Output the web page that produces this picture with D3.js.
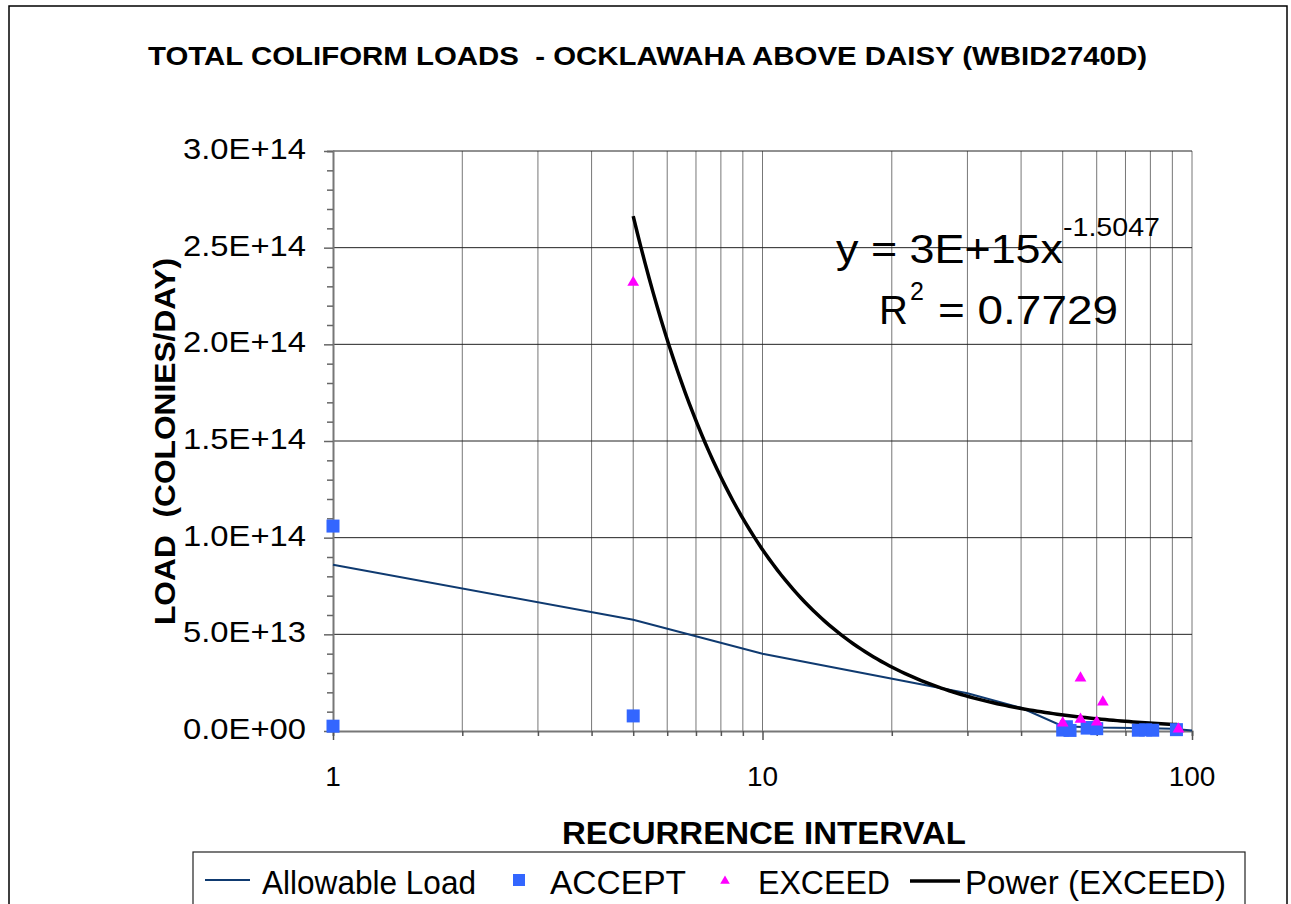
<!DOCTYPE html>
<html>
<head>
<meta charset="utf-8">
<script src="https://cdn.jsdelivr.net/npm/d3@7"></script>
<style>
  body { margin: 0; background: #fff; }
  text { font-family: "Liberation Sans", Arial, sans-serif; white-space: pre; }
</style>
</head>
<body>
<svg id="chart" width="1291" height="904"></svg>
<script>
// allowable load line (recurrence interval, load)
var allowX = [1, 5, 10, 30, 40, 50, 60, 80, 90, 100];
var allowY = [8.6e13, 5.75e13, 4.0e13, 1.95e13, 1.2e13, 2.5e12, 1.8e12, 1.4e12, 1.2e12, 0.3e12];

// ACCEPT samples
var acceptX = [1, 1, 5, 50, 51, 52, 57, 58.5, 60, 75, 78, 81, 92];
var acceptY = [1.06e14, 2.5e12, 7.8e12, 0.5e12, 2.2e12, 0.3e12, 1.5e12, 1.8e12, 1.2e12, 0.4e12, 0.6e12, 0.4e12, 0.7e12];

// EXCEED samples
var exceedX = [5, 50, 55, 55, 60, 62, 93];
var exceedY = [2.32e14, 4.1e12, 2.74e13, 6e12, 4.6e12, 1.5e13, 1e12];

// power trendline on EXCEED, as printed on the chart
var trendA = 3e15;
var trendB = -1.5047;

var yTicks = [0, 5e13, 1e14, 1.5e14, 2e14, 2.5e14, 3e14];
var yTickLabels = ["0.0E+00", "5.0E+13", "1.0E+14", "1.5E+14", "2.0E+14", "2.5E+14", "3.0E+14"];
var xTicks = [1, 10, 100];

var svg = d3.select("#chart");

var x = d3.scaleLog().domain([1, 100]).range([333, 1192]);
var y = d3.scaleLinear().domain([0, 3e14]).range([731, 151]);

// outer frame
svg.append("rect")
  .attr("x", 9).attr("y", 6)
  .attr("width", 1278).attr("height", 920)
  .attr("fill", "none")
  .attr("stroke", "#000")
  .attr("stroke-width", 1.5);

// title
svg.append("text")
  .attr("x", 148).attr("y", 65)
  .attr("textLength", 999).attr("lengthAdjust", "spacingAndGlyphs")
  .style("font-size", "26px").style("font-weight", "bold")
  .text("TOTAL COLIFORM LOADS  - OCKLAWAHA ABOVE DAISY (WBID2740D)");

// gridlines
var minorX = [];
[1, 10].forEach(function(d) {
  for (var k = 2; k <= 9; k++) minorX.push(d * k);
});

svg.append("g").selectAll("line")
  .data(minorX.concat([10, 100]))
  .enter().append("line")
  .attr("x1", function(d) { return x(d); })
  .attr("x2", function(d) { return x(d); })
  .attr("y1", y(3e14)).attr("y2", y(0))
  .attr("stroke", "#777").attr("stroke-width", 1);

svg.append("g").selectAll("line")
  .data(yTicks.slice(1))
  .enter().append("line")
  .attr("x1", x(1)).attr("x2", x(100))
  .attr("y1", function(d) { return y(d); })
  .attr("y2", function(d) { return y(d); })
  .attr("stroke", "#222").attr("stroke-width", 1);

// axes
var yAxis = d3.axisLeft(y)
  .tickValues(d3.range(0, 3.01e14, 1e13))
  .tickSize(6)
  .tickFormat("");
var gy = svg.append("g").attr("transform", "translate(" + x(1) + ",0)").call(yAxis);
gy.selectAll(".tick line")
  .attr("x2", function(d) { return (Math.round(d / 1e13) % 5 == 0) ? -9 : -6; })
  .attr("stroke", "#666").attr("stroke-width", 1.5);
gy.select(".domain").attr("stroke", "#777").attr("stroke-width", 2);

var xAxis = d3.axisBottom(x)
  .tickValues(minorX.concat(xTicks))
  .tickSize(5)
  .tickFormat("");
var gx = svg.append("g").attr("transform", "translate(0," + y(0) + ")").call(xAxis);
gx.selectAll(".tick line")
  .attr("y2", function(d) { return xTicks.indexOf(d) >= 0 ? 9 : 5; })
  .attr("stroke", "#555").attr("stroke-width", 1.5);
gx.select(".domain").attr("stroke", "#777").attr("stroke-width", 2);

// tick labels
svg.append("g").selectAll("text")
  .data(yTicks)
  .enter().append("text")
  .attr("x", 306)
  .attr("y", function(d) { return y(d) + 8; })
  .attr("text-anchor", "end")
  .attr("textLength", 123).attr("lengthAdjust", "spacingAndGlyphs")
  .style("font-size", "29px")
  .text(function(d, i) { return yTickLabels[i]; });

svg.append("g").selectAll("text")
  .data(xTicks)
  .enter().append("text")
  .attr("x", function(d) { return x(d); })
  .attr("y", 786)
  .attr("text-anchor", "middle")
  .style("font-size", "28px")
  .text(function(d) { return d; });

// axis titles
svg.append("text")
  .attr("x", 562).attr("y", 844)
  .attr("textLength", 404).attr("lengthAdjust", "spacingAndGlyphs")
  .style("font-size", "32px").style("font-weight", "bold")
  .text("RECURRENCE INTERVAL");

svg.append("text")
  .attr("transform", "translate(175,625) rotate(-90)")
  .attr("textLength", 367).attr("lengthAdjust", "spacingAndGlyphs")
  .style("font-size", "29px").style("font-weight", "bold")
  .text("LOAD  (COLONIES/DAY)");

// allowable load
var line = d3.line()
  .x(function(d) { return x(d[0]); })
  .y(function(d) { return y(d[1]); });

svg.append("path")
  .datum(d3.zip(allowX, allowY))
  .attr("d", line)
  .attr("fill", "none")
  .attr("stroke", "#0f3a70")
  .attr("stroke-width", 2);

// power trendline
var trendX = d3.range(x(d3.min(exceedX)), x(d3.max(exceedX)) + 1, 4).map(function(px) { return x.invert(px); });
svg.append("path")
  .datum(trendX.map(function(v) { return [v, trendA * Math.pow(v, trendB)]; }))
  .attr("d", line)
  .attr("fill", "none")
  .attr("stroke", "#000")
  .attr("stroke-width", 3.5);

// ACCEPT squares
svg.append("g").selectAll("rect")
  .data(d3.zip(acceptX, acceptY))
  .enter().append("rect")
  .attr("x", function(d) { return x(d[0]) - 6.5; })
  .attr("y", function(d) { return y(d[1]) - 6.5; })
  .attr("width", 13).attr("height", 13)
  .attr("fill", "#3366ff");

// EXCEED triangles
var tri = d3.symbol().type(d3.symbolTriangle).size(60);
svg.append("g").selectAll("path")
  .data(d3.zip(exceedX, exceedY))
  .enter().append("path")
  .attr("d", tri)
  .attr("transform", function(d) { return "translate(" + x(d[0]) + "," + y(d[1]) + ")"; })
  .attr("fill", "#ff00ff");

// equation
var eq = svg.append("text").attr("x", 836).attr("y", 263).style("font-size", "40px");
eq.append("tspan").attr("textLength", 227).attr("lengthAdjust", "spacingAndGlyphs").text("y = 3E+15x");
eq.append("tspan").attr("x", 1063).attr("y", 236).style("font-size", "25px")
  .attr("textLength", 97).attr("lengthAdjust", "spacingAndGlyphs").text("-1.5047");

var r2 = svg.append("text").attr("x", 879).attr("y", 324).style("font-size", "40px");
r2.append("tspan").text("R");
r2.append("tspan").attr("x", 910).attr("y", 300).style("font-size", "25px").text("2");
r2.append("tspan").attr("x", 938).attr("y", 324)
  .attr("textLength", 180).attr("lengthAdjust", "spacingAndGlyphs").text("= 0.7729");

// legend
var lg = svg.append("g");
lg.append("rect")
  .attr("x", 193).attr("y", 852)
  .attr("width", 1052).attr("height", 70)
  .attr("fill", "#fff")
  .attr("stroke", "#222").attr("stroke-width", 1.2);

lg.append("line").attr("x1", 205).attr("x2", 250).attr("y1", 880).attr("y2", 880)
  .attr("stroke", "#0f3a70").attr("stroke-width", 2);
lg.append("rect").attr("x", 513).attr("y", 874).attr("width", 12).attr("height", 12)
  .attr("fill", "#3366ff");
lg.append("path").attr("d", d3.symbol().type(d3.symbolTriangle).size(40))
  .attr("transform", "translate(725,881)").attr("fill", "#ff00ff");
lg.append("line").attr("x1", 910).attr("x2", 960).attr("y1", 881).attr("y2", 881)
  .attr("stroke", "#000").attr("stroke-width", 3.5);

var legendItems = [
  { label: "Allowable Load", x: 262, w: 214 },
  { label: "ACCEPT", x: 550, w: 136 },
  { label: "EXCEED", x: 758, w: 132 },
  { label: "Power (EXCEED)", x: 965, w: 261 }
];
lg.selectAll("text.lbl")
  .data(legendItems)
  .enter().append("text")
  .attr("class", "lbl")
  .attr("x", function(d) { return d.x; })
  .attr("y", 894)
  .attr("textLength", function(d) { return d.w; })
  .attr("lengthAdjust", "spacingAndGlyphs")
  .style("font-size", "34px")
  .text(function(d) { return d.label; });
</script>
</body>
</html>
